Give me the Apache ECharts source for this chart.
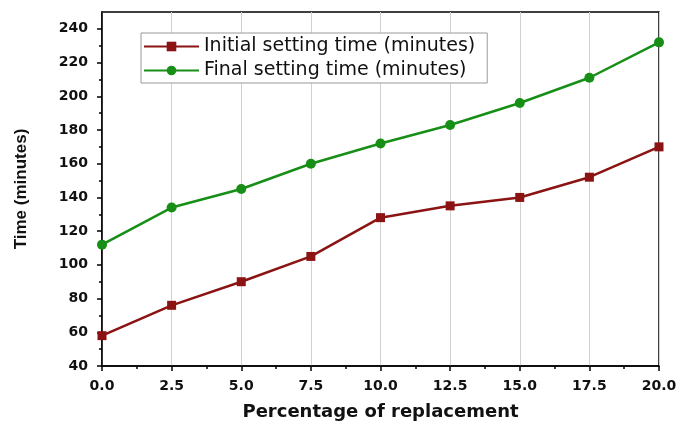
<!DOCTYPE html>
<html><head><meta charset="utf-8">
<script src="https://cdn.jsdelivr.net/npm/echarts@6/dist/echarts.min.js"></script>
<style>html,body{margin:0;padding:0;background:#fff}#c{width:678px;height:423px}</style>
</head><body><div id="c"></div>
<script>
const xValues = [0, 2.5, 5, 7.5, 10, 12.5, 15, 17.5, 20];
const initialSetting = [58, 76, 90, 105, 128, 135, 140, 152, 170];
const finalSetting = [112, 134, 145, 160, 172, 183, 196, 211, 232];
const yTicks = [40, 60, 80, 100, 120, 140, 160, 180, 200, 220, 240];
const seriesNames = ['Initial setting time (minutes)', 'Final setting time (minutes)'];

const chart = echarts.init(document.getElementById('c'));
const pair = (ys) => xValues.map((x, i) => [x, ys[i]]);
chart.setOption({
  animation: false,
  grid: { left: 102, right: 19, top: 12, bottom: 57, show: true, borderColor: '#000', borderWidth: 1.5,
          containLabel: false, outerBoundsMode: 'none' },
  legend: {
    orient: 'vertical', left: 141, top: 33, itemWidth: 55, itemHeight: 12, itemGap: 5,
    borderColor: '#999', borderWidth: 1, padding: [4, 12, 3, 2], backgroundColor: '#fff',
    textStyle: { fontFamily: 'DejaVu Sans', fontSize: 19, color: '#111' },
    data: seriesNames
  },
  xAxis: {
    type: 'value', min: 0, max: 20, interval: 2.5,
    name: 'Percentage of replacement', nameLocation: 'middle', nameGap: 37,
    nameTextStyle: { fontFamily: 'DejaVu Sans', fontWeight: 'bold', fontSize: 18, color: '#111' },
    axisLine: { show: true, onZero: false, lineStyle: { color: '#000', width: 1.5 } },
    axisTick: { show: true, inside: false, length: 5, lineStyle: { color: '#000', width: 1.5 } },
    minorTick: { show: true, splitNumber: 2, length: 3, lineStyle: { color: '#000', width: 1.5 } },
    axisLabel: { fontFamily: 'DejaVu Sans', fontWeight: 'bold', fontSize: 14, color: '#111', margin: 13, formatter: v => v.toFixed(1) },
    splitLine: { show: true, lineStyle: { color: '#d0d0d0', width: 1 } }
  },
  yAxis: {
    type: 'value', min: 40, max: 250, interval: 20,
    name: 'Time (minutes)', nameLocation: 'middle', nameGap: 72, nameRotate: 90,
    nameTextStyle: { fontFamily: 'Liberation Sans', fontWeight: 'bold', fontSize: 17, color: '#111' },
    axisLine: { show: true, onZero: false, lineStyle: { color: '#000', width: 1.5 } },
    axisTick: { show: true, inside: false, length: 5, customValues: yTicks, lineStyle: { color: '#000', width: 1.5 } },
    minorTick: { show: true, splitNumber: 2, length: 3, lineStyle: { color: '#000', width: 1.5 } },
    axisLabel: { fontFamily: 'DejaVu Sans', fontWeight: 'bold', fontSize: 14, color: '#111', margin: 14, customValues: yTicks },
    splitLine: { show: false }
  },
  series: [
    { name: seriesNames[0], type: 'line', data: pair(initialSetting), symbol: 'rect', symbolSize: 9,
      lineStyle: { color: '#8b1313', width: 2.5 }, itemStyle: { color: '#8b1313' } },
    { name: seriesNames[1], type: 'line', data: pair(finalSetting), symbol: 'circle', symbolSize: 10,
      lineStyle: { color: '#178f17', width: 2.5 }, itemStyle: { color: '#178f17' } }
  ]
});
</script></body></html>
